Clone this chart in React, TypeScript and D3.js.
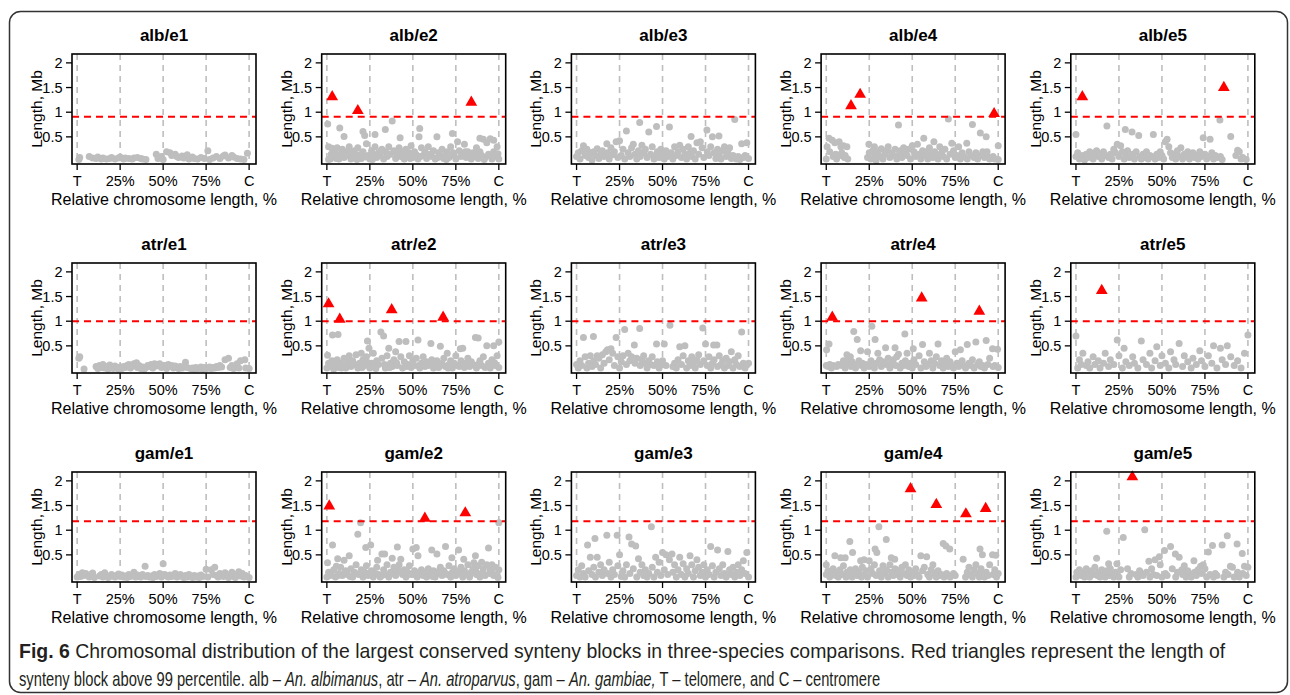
import { useLayoutEffect, useRef } from 'react';
import * as d3 from 'd3';

type Pt = [number, number];

// [relative position %, length Mb]
const albE1: Pt[] = [[1,0.04],[1.5,0.08],[7,0.1],[9,0.07],[11,0.06],[12,0.09],[14,0.05],[15,0.07],[17,0.05],[19,0.06],[20,0.08],[22,0.05],[24,0.07],[25,0.09],[27,0.05],[28,0.07],[30,0.06],[32,0.05],[33,0.07],[35,0.08],[37,0.06],[38,0.05],[40,0.04],[46,0.15],[47,0.06],[49,0.1],[50,0.04],[52,0.2],[54,0.18],[55,0.12],[57,0.15],[58,0.1],[59,0.08],[61,0.11],[62,0.07],[64,0.14],[65,0.05],[67,0.09],[68,0.06],[70,0.05],[72,0.08],[74,0.06],[76,0.22],[77,0.04],[79,0.07],[81,0.1],[83,0.06],[85,0.11],[86,0.13],[88,0.07],[90,0.12],[91,0.09],[93,0.06],[95,0.05],[97,0.04],[99,0.17]];
const albE1Peaks: Pt[] = [];

const albE2: Pt[] = [[0.5,0.76],[1,0.3],[2,0.05],[7.5,0.68],[10,0.51],[21,0.61],[22,0.53],[23,0.36],[28,0.55],[34,0.65],[38,0.82],[42.6,0.48],[53.6,0.5],[54,0.67],[64,0.5],[73,0.57],[76,0.4],[80,0.35],[87,0.28],[89,0.47],[91,0.45],[93,0.38],[95,0.46],[97,0.43],[99,0.3],
  [1,0.04],[3,0.27],[4,0.1],[5,0.18],[6,0.28],[7,0.05],[8,0.15],[9,0.25],[10,0.08],[11,0.2],[12,0.12],[13,0.3],[14,0.05],[15,0.18],[16,0.22],[17,0.1],[18,0.28],[19,0.14],[20,0.06],[21,0.2],[24,0.12],[25,0.05],[26,0.22],[27,0.15],[28,0.3],[29,0.08],[30,0.18],[31,0.12],[32,0.25],[33,0.05],[34,0.2],[35,0.1],[36,0.3],[37,0.15],[39,0.22],[40,0.06],[41,0.14],[42,0.28],[43,0.1],[44,0.2],[45,0.05],[46,0.25],[47,0.12],[48,0.18],[49,0.32],[50,0.08],[51,0.2],[52,0.14],[53,0.05],[55,0.28],[56,0.12],[57,0.2],[58,0.06],[59,0.3],[60,0.15],[61,0.1],[62,0.22],[63,0.05],[65,0.18],[66,0.1],[67,0.25],[68,0.06],[69,0.15],[70,0.2],[71,0.08],[72,0.3],[74,0.12],[75,0.05],[77,0.22],[78,0.1],[79,0.16],[81,0.08],[82,0.2],[83,0.12],[84,0.05],[85,0.18],[86,0.1],[88,0.06],[89,0.2],[90,0.12],[92,0.08],[94,0.15],[96,0.05],[97,0.2],[98,0.1],[100,0.05],
  [2.5,0.15],[5.5,0.06],[9.5,0.12],[13.5,0.18],[17.5,0.04],[22.5,0.09],[26.5,0.04],[31.5,0.22],[35.5,0.16],[40.5,0.2],[44.5,0.08],[48.5,0.06],[54.5,0.1],[58.5,0.14],[64.5,0.08],[69.5,0.04],[73.5,0.18],[80.5,0.2],[86.5,0.16],[91.5,0.04],[95.5,0.1],[99.5,0.16]];
const albE2Peaks: Pt[] = [[3.1,1.31],[18,1.03],[84,1.2]];

const albE3: Pt[] = [[29,0.62],[36.7,0.79],[42,0.6],[46.5,0.71],[54,0.7],[66.6,0.51],[75.8,0.64],[79,0.5],[82.8,0.52],[92,0.85],[96,0.36],[99,0.38],[17.6,0.36],[23,0.4],[25,0.42],[4,0.32],[33,0.35],[38,0.33],[60,0.33],[70,0.38],[72,0.4],[86,0.3],[89,0.28],
  [0,0.1],[1,0.18],[2,0.05],[3,0.22],[5,0.12],[6,0.25],[7,0.08],[8,0.18],[9,0.03],[10,0.2],[11,0.12],[12,0.26],[13,0.06],[14,0.15],[15,0.22],[16,0.1],[18,0.18],[19,0.05],[20,0.28],[21,0.14],[22,0.2],[24,0.08],[26,0.12],[27,0.25],[28,0.05],[30,0.18],[31,0.1],[32,0.28],[34,0.15],[35,0.05],[36,0.22],[37,0.1],[39,0.18],[40,0.25],[41,0.08],[43,0.15],[44,0.3],[45,0.05],[46,0.12],[47,0.2],[48,0.08],[49,0.25],[50,0.15],[51,0.05],[52,0.22],[53,0.1],[55,0.18],[56,0.05],[57,0.3],[58,0.12],[59,0.2],[61,0.08],[62,0.25],[63,0.15],[64,0.05],[65,0.3],[66,0.18],[67,0.1],[68,0.22],[69,0.05],[71,0.15],[73,0.28],[74,0.08],[76,0.2],[77,0.12],[78,0.3],[80,0.18],[81,0.06],[82,0.25],[83,0.12],[84,0.05],[85,0.22],[87,0.1],[88,0.18],[90,0.06],[91,0.12],[93,0.05],[94,0.1],[95,0.04],[97,0.08],[98,0.12],[100,0.06]];
const albE3Peaks: Pt[] = [];

const albE4: Pt[] = [[0,0.05],[0.5,0.3],[1.6,0.47],[2,0.2],[3.5,0.43],[4,0.1],[5,0.38],[5.5,0.15],[6,0.05],[7.5,0.4],[8,0.12],[8.5,0.3],[9,0.18],[10,0.32],[10.5,0.08],[11,0.12],[12,0.3],[12.5,0.05],
  [24.8,0.35],[36,0.3],[42,0.74],[56.7,0.47],[62.6,0.4],[71,0.86],[73,0.37],[81.7,0.37],[85,0.75],[89.6,0.58],[93,0.5],[100,0.32],[100,0.04],[28,0.3],[45,0.28],[50,0.32],[53,0.35],[66,0.3],[77,0.3],[93.5,0.2],
  [24,0.08],[25,0.18],[26,0.05],[27,0.22],[28.5,0.12],[29,0.02],[30,0.2],[31,0.1],[32,0.26],[33,0.05],[34,0.15],[35,0.22],[37,0.08],[38,0.18],[39,0.12],[40,0.25],[41,0.05],[42.5,0.15],[43,0.22],[44,0.08],[46,0.18],[47,0.12],[48,0.25],[49,0.05],[51,0.2],[52,0.1],[54,0.15],[55,0.05],[56,0.22],[57.5,0.12],[58,0.2],[59,0.05],[60,0.28],[61,0.15],[62,0.08],[63,0.2],[64,0.1],[65,0.05],[67,0.18],[68,0.1],[69,0.25],[70,0.05],[72,0.15],[74,0.22],[75,0.08],[76,0.12],[78,0.05],[79,0.18],[80,0.1],[82,0.05],[83,0.2],[84,0.12],[86,0.08],[87,0.18],[88,0.05],[90,0.12],[91,0.2],[92,0.08],[94,0.1],[95,0.05],[97,0.1],[98,0.05]];
const albE4Peaks: Pt[] = [[14.4,1.13],[19.7,1.36],[97.6,0.97]];

const albE5: Pt[] = [[0,0.55],[18,0.72],[28.7,0.65],[32.6,0.6],[36.5,0.53],[45,0.55],[83.7,0.84],[90,0.51],[24,0.35],[26,0.32],[52,0.4],[53,0.45],[74,0.48],[78,0.45],[94,0.23],[95,0.2],[22,0.25],
  [0,0.1],[1,0.18],[2,0.05],[3,0.08],[4,0.12],[5,0.03],[6,0.15],[7,0.08],[8,0.2],[9,0.12],[10,0.05],[11,0.18],[12,0.22],[13,0.1],[14,0.15],[15,0.05],[16,0.2],[17,0.12],[19,0.08],[20,0.15],[21,0.05],[23,0.18],[25,0.1],[27,0.2],[28,0.05],[29,0.12],[30,0.22],[31,0.08],[33,0.15],[34,0.05],[35,0.2],[37,0.1],[38,0.05],[39,0.15],[40,0.08],[41,0.2],[42,0.05],[43,0.12],[44,0.1],[46,0.05],[47,0.15],[48,0.08],[49,0.2],[50,0.12],[51,0.05],[54,0.3],[55,0.18],[56,0.08],[57,0.15],[58,0.05],[59,0.22],[60,0.1],[61,0.28],[62,0.05],[63,0.15],[64,0.12],[65,0.2],[66,0.05],[67,0.1],[68,0.18],[69,0.08],[70,0.12],[71,0.05],[72,0.2],[73,0.1],[75,0.15],[76,0.05],[77,0.1],[79,0.18],[80,0.05],[81,0.12],[82,0.08],[84,0.1],[85,0.04],[93,0.12],[96,0.05],[97,0.08],[99,0.04]];
const albE5Peaks: Pt[] = [[3.7,1.31],[86,1.5]];

const atrE1: Pt[] = [[1,0.25],[1.5,0.28],[4,0.03],[11,0.08],[12,0.04],[13,0.1],[14,0.06],[15,0.12],[16,0.05],[17,0.08],[18,0.03],[19,0.11],[20,0.07],[21,0.04],[22,0.09],[23,0.05],[24,0.03],[25,0.07],[26,0.04],[27,0.08],[28,0.06],[29,0.1],[30,0.12],[31,0.05],[32,0.09],[33,0.14],[34.5,0.16],[35,0.06],[36,0.1],[37,0.04],[38,0.07],[39,0.03],[40,0.06],[41,0.1],[42,0.08],[43,0.12],[44,0.05],[45,0.14],[46,0.09],[47,0.12],[48,0.14],[49,0.06],[51,0.1],[52,0.04],[53,0.12],[54,0.08],[55,0.1],[56,0.05],[57,0.09],[58,0.07],[59,0.04],[60,0.08],[61,0.05],[63,0.17],[64,0.06],[66,0.04],[67,0.05],[68,0.03],[69,0.06],[70,0.04],[71,0.05],[72,0.07],[73,0.03],[74,0.06],[75,0.04],[76,0.05],[77,0.07],[78,0.04],[79,0.06],[80,0.05],[81,0.08],[82,0.06],[83,0.1],[84,0.07],[86,0.22],[88,0.25],[89,0.06],[90,0.1],[91,0.04],[92,0.08],[93,0.14],[94,0.05],[95,0.2],[97.5,0.22],[98,0.05],[100,0.04]];
const atrE1Peaks: Pt[] = [];

const atrE2: Pt[] = [[0.4,0.31],[3.3,0.72],[6.5,0.73],[23.6,0.6],[31.4,0.78],[33,0.7],[42,0.59],[46,0.59],[53,0.62],[60.5,0.55],[66,0.49],[77.6,0.44],[79,0.45],[86.4,0.67],[88,0.66],[93,0.5],[97,0.5],[100,0.58],[24.5,0.45],[20,0.35],[36,0.45],[40,0.38],[70,0.35],
  [0,0.05],[1,0.15],[2,0.08],[3,0.2],[4,0.03],[5,0.12],[6,0.22],[7,0.06],[8,0.15],[9,0.1],[10,0.25],[11,0.05],[12,0.18],[13,0.3],[14,0.08],[15,0.2],[16,0.12],[17,0.32],[18,0.05],[19,0.15],[21,0.22],[22,0.1],[23,0.28],[25,0.05],[26,0.15],[27,0.35],[28,0.08],[29,0.2],[30,0.12],[32,0.25],[34,0.05],[35,0.3],[37,0.15],[38,0.08],[39,0.22],[41,0.1],[43,0.28],[44,0.05],[45,0.18],[47,0.12],[48,0.3],[49,0.06],[50,0.2],[51,0.1],[52,0.25],[54,0.05],[55,0.15],[56,0.28],[57,0.08],[58,0.18],[59,0.1],[61,0.22],[62,0.05],[63,0.12],[64,0.2],[65,0.06],[67,0.15],[68,0.25],[69,0.08],[71,0.12],[72,0.2],[73,0.05],[74,0.15],[75,0.3],[76,0.1],[78,0.2],[80,0.06],[81,0.15],[82,0.25],[83,0.08],[84,0.18],[85,0.12],[87,0.05],[89,0.2],[90,0.1],[91,0.28],[92,0.06],[94,0.15],[95,0.05],[96,0.22],[98,0.1],[99,0.3],[100,0.06],
  [2.5,0.1],[8.5,0.05],[14.5,0.14],[20.5,0.06],[24,0.16],[28.5,0.04],[33.5,0.12],[36.5,0.06],[40.5,0.16],[46.5,0.08],[53.5,0.1],[60,0.14],[66,0.1],[70.5,0.05],[77,0.08],[79.5,0.14],[86,0.1],[88.5,0.14],[93.5,0.08],[97.5,0.16]];
const atrE2Peaks: Pt[] = [[1,1.35],[7.5,1.04],[37.7,1.23],[67.6,1.08]];

const atrE3: Pt[] = [[4,0.67],[9.8,0.69],[23,0.67],[28,0.83],[36.7,0.85],[54.3,0.92],[73.4,0.86],[96,0.78],[33.6,0.52],[46.5,0.54],[51,0.54],[75,0.54],[79.7,0.52],[81.6,0.52],[60,0.48],[63,0.5],[18,0.42],[20,0.44],[90,0.38],[12,0.3],
  [0,0.12],[1,0.05],[2,0.2],[3,0.1],[5,0.28],[6,0.05],[7,0.15],[8,0.3],[9,0.08],[10,0.2],[11,0.12],[13,0.25],[14,0.05],[15,0.32],[16,0.15],[17,0.38],[19,0.22],[21,0.35],[22,0.1],[24,0.28],[25,0.05],[26,0.18],[27,0.3],[29,0.12],[30,0.35],[31,0.2],[32,0.28],[34,0.15],[35,0.25],[37,0.1],[38,0.22],[39,0.3],[40,0.15],[41,0.05],[42,0.2],[43,0.12],[44,0.28],[45,0.1],[47,0.18],[48,0.05],[49,0.12],[50,0.2],[52,0.1],[56,0.08],[57,0.15],[58,0.05],[59,0.22],[61,0.12],[62,0.3],[64,0.05],[65,0.2],[66,0.1],[67,0.28],[68,0.15],[69,0.05],[70,0.22],[71,0.32],[72,0.12],[74,0.2],[76,0.1],[77,0.28],[78,0.05],[79,0.15],[80,0.22],[82,0.08],[83,0.3],[84,0.12],[85,0.2],[86,0.05],[87,0.25],[88,0.1],[89,0.18],[91,0.05],[92,0.22],[93,0.12],[94,0.3],[95,0.08],[97,0.15],[98,0.05],[99,0.12],[100,0.15]];
const atrE3Peaks: Pt[] = [];

const atrE4: Pt[] = [[0.2,0.42],[1.6,0.54],[16,0.79],[18,0.63],[26.5,0.9],[28.4,0.63],[45.7,0.74],[34.5,0.46],[40,0.46],[50.6,0.44],[56,0.53],[65,0.54],[82,0.53],[87,0.58],[93,0.61],[96.7,0.44],[99.6,0.43],[12,0.32],[14,0.28],[20,0.4],[24,0.38],[30,0.35],[42,0.33],[47,0.35],[60,0.35],[75,0.38],[78,0.42],
  [0,0.1],[1,0.08],[2,0.12],[3,0.05],[4,0.1],[6,0.08],[7,0.12],[9,0.1],[10,0.2],[11,0.05],[12.5,0.15],[13,0.22],[14.5,0.08],[15,0.18],[16.5,0.12],[17,0.05],[19,0.2],[20.5,0.1],[21,0.15],[22,0.05],[23,0.12],[25,0.08],[26,0.2],[27,0.12],[28,0.05],[29,0.15],[31,0.22],[32,0.08],[33,0.18],[35,0.12],[36,0.25],[37,0.05],[38,0.15],[39,0.22],[40.5,0.1],[41,0.28],[43,0.05],[44,0.15],[45,0.1],[46,0.2],[48,0.08],[49,0.15],[50,0.05],[51,0.22],[52,0.12],[54,0.3],[55,0.05],[57,0.18],[58,0.08],[59,0.12],[61,0.2],[62,0.05],[63,0.15],[64,0.28],[66,0.1],[67,0.2],[68,0.05],[69,0.15],[70,0.25],[71,0.08],[72,0.18],[73,0.1],[74,0.05],[76,0.15],[77,0.08],[79,0.2],[80,0.1],[81,0.05],[83,0.15],[84,0.1],[85,0.22],[86,0.05],[88,0.12],[89,0.18],[90,0.08],[91,0.1],[92,0.05],[94,0.12],[95,0.25],[97,0.08],[98,0.1],[100,0.06]];
const atrE4Peaks: Pt[] = [[3.5,1.08],[55.5,1.47],[89,1.2]];

const atrE5: Pt[] = [[0,0.7],[1,0.05],[2,0.22],[3,0.12],[4,0.35],[6,0.1],[7,0.18],[8,0.05],[10,0.28],[11,0.12],[13,0.2],[14,0.05],[16,0.15],[17,0.35],[19,0.08],[20,0.22],[22,0.12],[24,0.62],[25,0.3],[27,0.05],[28,0.45],[29,0.18],[31,0.1],[33,0.28],[34,0.15],[36,0.05],[38,0.6],[39,0.22],[41,0.12],[43,0.35],[44,0.05],[46,0.2],[47,0.48],[49,0.1],[50,0.3],[52,0.15],[54,0.05],[55,0.38],[57,0.22],[58,0.12],[60,0.55],[62,0.08],[63,0.3],[65,0.18],[67,0.05],[68,0.25],[70,0.12],[72,0.4],[73,0.2],[75,0.08],[77,0.3],[79,0.15],[80,0.5],[82,0.05],[84,0.45],[85,0.22],[87,0.12],[88,0.5],[90,0.28],[92,0.1],[94,0.2],[96,0.05],[98,0.35],[100,0.72]];
const atrE5Peaks: Pt[] = [[15,1.62]];

const gamE1: Pt[] = [[0,0.05],[1,0.1],[2,0.06],[3,0.14],[4,0.08],[5,0.12],[7,0.05],[8,0.1],[9,0.13],[10,0.04],[13,0.07],[14,0.1],[15,0.05],[16,0.14],[17,0.08],[18,0.04],[19,0.06],[20,0.1],[21,0.07],[22,0.05],[23,0.08],[24,0.11],[25,0.06],[26,0.09],[27,0.05],[28,0.07],[29,0.04],[30,0.1],[31,0.06],[32,0.08],[33,0.15],[34,0.05],[35,0.09],[36,0.07],[37,0.05],[38,0.1],[39.5,0.27],[40,0.06],[41,0.08],[42,0.05],[43,0.07],[44,0.04],[45,0.1],[46,0.06],[47,0.08],[48,0.12],[49,0.05],[50,0.32],[51,0.1],[52,0.07],[53,0.05],[54,0.09],[55,0.06],[56,0.08],[57,0.12],[58,0.05],[59,0.07],[60,0.1],[61,0.06],[62,0.04],[63,0.08],[64,0.05],[65,0.1],[66,0.06],[67,0.04],[68,0.08],[69,0.05],[70,0.07],[71,0.04],[72,0.09],[73,0.06],[75,0.21],[76,0.05],[78,0.2],[79,0.1],[80,0.25],[81,0.08],[82,0.05],[83,0.12],[85,0.06],[86,0.14],[87,0.08],[88,0.04],[89,0.1],[90,0.15],[91,0.06],[92,0.04],[93,0.1],[94,0.16],[95,0.07],[96,0.12],[97,0.05],[98,0.08],[100,0.04]];
const gamE1Peaks: Pt[] = [];

const gamE2: Pt[] = [[0.4,0.34],[3.3,0.7],[5.5,0.27],[6.3,0.42],[10,0.39],[13,0.48],[18,0.92],[19.6,1.15],[22.6,0.65],[25.5,0.7],[29.5,0.39],[32,0.52],[33.6,0.52],[38,0.43],[41,0.66],[43,0.41],[50,0.62],[52,0.65],[53,0.48],[61,0.6],[64,0.52],[69,0.67],[72.7,0.44],[76.6,0.6],[79.6,0.41],[85.5,0.34],[86.4,0.48],[94,0.64],[100,1.15],[90,0.35],[96,0.3],
  [0,0.05],[1,0.15],[2,0.08],[4,0.2],[5,0.05],[7,0.12],[8,0.25],[9,0.08],[11,0.18],[12,0.1],[14,0.22],[15,0.05],[16,0.15],[17,0.3],[18.5,0.1],[20,0.2],[21,0.05],[22,0.15],[23,0.28],[24,0.08],[26,0.18],[27,0.05],[28,0.12],[29,0.25],[30,0.1],[31,0.05],[33,0.2],[34,0.1],[35,0.3],[36,0.05],[37,0.15],[39,0.25],[40,0.08],[41.5,0.18],[42,0.3],[44,0.1],[45,0.2],[46,0.05],[47,0.15],[48,0.28],[49,0.1],[51,0.18],[52.5,0.05],[54,0.12],[55,0.2],[56,0.08],[57,0.15],[58,0.05],[59,0.22],[60,0.1],[62,0.18],[63,0.05],[65,0.12],[66,0.25],[67,0.08],[68,0.18],[70,0.1],[71,0.28],[72,0.05],[73,0.15],[74,0.22],[75,0.08],[77,0.12],[78,0.25],[79,0.05],[80,0.18],[81,0.1],[82,0.3],[83,0.05],[84,0.15],[85,0.22],[87,0.1],[88,0.28],[89,0.05],[90.5,0.15],[91,0.22],[92,0.08],[93,0.3],[94.5,0.12],[95,0.2],[97,0.08],[98,0.25],[99,0.1],[100,0.2],
  [2.5,0.12],[6.5,0.08],[10.5,0.14],[13.5,0.06],[19,0.12],[25,0.14],[32,0.08],[38.5,0.12],[43.5,0.16],[50.5,0.1],[56.5,0.14],[61.5,0.06],[64.5,0.16],[69,0.12],[76,0.16],[83.5,0.12],[86.5,0.18],[89.5,0.1],[96,0.14],[99.5,0.04]];
const gamE2Peaks: Pt[] = [[1.4,1.49],[57,1.24],[80.5,1.35]];

const gamE3: Pt[] = [[6.4,0.7],[10.7,0.83],[17.6,0.9],[23.6,0.9],[30.5,0.86],[32,0.72],[34.4,0.68],[43.5,1.07],[50,0.55],[52,0.5],[55.5,0.52],[60,0.45],[66,0.48],[78,0.67],[82,0.6],[88,0.57],[99,0.55],[97,0.38],[8,0.45],[12,0.45],[25,0.5],[36,0.42],[46,0.45],[70,0.4],
  [0,0.08],[1,0.2],[2,0.05],[3,0.28],[4,0.12],[5,0.05],[7,0.18],[9,0.1],[10,0.25],[11,0.05],[13,0.15],[14,0.3],[15,0.08],[16,0.2],[18,0.12],[19,0.35],[20,0.05],[21,0.2],[22,0.1],[24,0.28],[26,0.06],[27,0.18],[28,0.05],[29,0.3],[31,0.12],[33,0.22],[35,0.05],[37,0.15],[38,0.3],[39,0.08],[40,0.2],[41,0.05],[42,0.12],[44,0.25],[45,0.05],[47,0.15],[48,0.35],[49,0.08],[51,0.2],[53,0.1],[54,0.4],[56,0.15],[57,0.3],[58,0.05],[59,0.2],[61,0.1],[62,0.32],[63,0.05],[64,0.22],[65,0.12],[67,0.3],[68,0.05],[69,0.18],[71,0.25],[72,0.08],[73,0.15],[74,0.3],[75,0.05],[76,0.2],[77,0.1],[79,0.28],[80,0.05],[81,0.15],[83,0.22],[84,0.08],[85,0.3],[86,0.12],[87,0.05],[89,0.2],[90,0.1],[91,0.25],[92,0.05],[93,0.15],[94,0.3],[95,0.08],[96,0.2],[98,0.12],[100,0.05]];
const gamE3Peaks: Pt[] = [];

const gamE4: Pt[] = [[30.6,1.07],[13.7,0.77],[34.9,0.81],[28.4,0.62],[29.4,0.55],[15.3,0.55],[68,0.73],[69.6,0.68],[71.8,0.62],[79.6,0.41],[89.4,0.62],[90.8,0.5],[96.7,0.5],[98.6,0.49],[5,0.48],[8.4,0.44],[11,0.44],[37.8,0.44],[39.8,0.41],[58.4,0.46],[55,0.48],[0,0.3],[20,0.38],[22,0.4],[25,0.38],[46,0.3],[62,0.3],
  [0,0.1],[1,0.18],[2,0.05],[3,0.12],[4,0.22],[5.5,0.08],[6,0.15],[7,0.05],[8,0.2],[9,0.1],[10,0.28],[11.5,0.05],[12,0.15],[13,0.1],[14,0.2],[15,0.05],[16,0.12],[17,0.22],[18,0.08],[19,0.15],[20.5,0.05],[21,0.25],[22.5,0.1],[23,0.18],[24,0.05],[26,0.22],[27,0.12],[28,0.3],[29,0.08],[31,0.18],[32,0.05],[33,0.28],[34,0.12],[35,0.2],[36,0.05],[37,0.3],[38,0.15],[39,0.08],[40,0.22],[41,0.1],[42,0.18],[43,0.05],[44,0.25],[45,0.12],[47,0.08],[48,0.2],[49,0.05],[50,0.15],[51,0.08],[52,0.22],[53,0.1],[54,0.05],[56,0.18],[57,0.25],[59,0.1],[60,0.05],[61,0.2],[63,0.12],[64,0.05],[65,0.18],[66,0.08],[67,0.1],[68.5,0.05],[70,0.12],[71,0.08],[72,0.05],[74,0.12],[75,0.08],[81,0.05],[82,0.15],[83,0.25],[84,0.1],[85,0.05],[86,0.2],[87,0.3],[88,0.12],[89,0.05],[90,0.22],[91,0.1],[92,0.05],[93,0.15],[94,0.08],[95,0.3],[97,0.1],[98,0.2],[99,0.05],[100,0.12]];
const gamE4Peaks: Pt[] = [[49,1.84],[64,1.52],[81.2,1.33],[92.7,1.44]];

const gamE5: Pt[] = [[17.9,0.98],[27.5,0.85],[40,1.01],[12,0.43],[19,0.32],[23.8,0.32],[42.4,0.37],[48.5,0.46],[49,0.3],[51.5,0.59],[55,0.67],[57.8,0.52],[60,0.45],[61.6,0.2],[68.6,0.38],[72.5,0.27],[77,0.56],[79.4,0.69],[85,0.7],[88,0.89],[89.8,0.27],[93.7,0.72],[96.7,0.53],[98,0.27],[100,0.25],[46,0.4],[74,0.3],[91,0.25],
  [0,0.05],[0.5,0.15],[1,0.1],[2,0.2],[3,0.08],[4,0.15],[5,0.05],[6,0.22],[7,0.12],[8,0.05],[9,0.18],[10,0.1],[11,0.25],[12.5,0.08],[13,0.15],[14,0.05],[15,0.2],[16,0.12],[17,0.05],[18,0.18],[19.5,0.08],[20,0.22],[21,0.12],[22,0.05],[23,0.15],[24,0.1],[25,0.05],[26,0.2],[30,0.22],[31,0.05],[32,0.12],[35,0.1],[36,0.05],[37,0.18],[38,0.12],[39,0.08],[41,0.15],[43,0.05],[44,0.22],[45,0.1],[47,0.08],[50,0.05],[52,0.12],[53,0.08],[56,0.22],[58,0.05],[59,0.15],[62,0.1],[63,0.28],[64,0.05],[65,0.18],[66,0.12],[67,0.05],[69,0.15],[70,0.08],[71,0.2],[73,0.12],[75,0.22],[76,0.05],[78,0.1],[80,0.05],[81,0.12],[82,0.08],[86,0.05],[87,0.15],[88.5,0.1],[92,0.05],[94,0.15],[95,0.05],[97,0.12],[99,0.08]];
const gamE5Peaks: Pt[] = [[32.8,2.08]];

const rowNames = ['alb', 'atr', 'gam'];
const cutoffs = [0.91, 1.0, 1.18]; // 99th percentile per species row
const colNames = ['e1', 'e2', 'e3', 'e4', 'e5'];
const grid: Pt[][][] = [
  [albE1, albE2, albE3, albE4, albE5],
  [atrE1, atrE2, atrE3, atrE4, atrE5],
  [gamE1, gamE2, gamE3, gamE4, gamE5],
];
const peakGrid: Pt[][][] = [
  [albE1Peaks, albE2Peaks, albE3Peaks, albE4Peaks, albE5Peaks],
  [atrE1Peaks, atrE2Peaks, atrE3Peaks, atrE4Peaks, atrE5Peaks],
  [gamE1Peaks, gamE2Peaks, gamE3Peaks, gamE4Peaks, gamE5Peaks],
];
const xTicks = [0, 25, 50, 75, 100];
const xTickLabels = ['T', '25%', '50%', '75%', 'C'];
const yTicks = [0.5, 1, 1.5, 2];
const yTickLabels = ['0.5', '1', '1.5', '2'];

const W = 1290;
const H = 695;
const PW = 184;
const PH = 110;
const FONT = "'Liberation Sans', Arial, Helvetica, sans-serif";

function Panel({ title, dots, peaks, cutoff, left, top }: {
  title: string; dots: Pt[]; peaks: Pt[]; cutoff: number; left: number; top: number;
}) {
  const x = d3.scaleLinear().domain([-3, 104]).range([left, left + PW]);
  const y = d3.scaleLinear().domain([-0.05, 2.18]).range([top + PH, top]);
  const tri = d3.symbol().type(d3.symbolTriangle).size(60)() || '';
  const bottom = top + PH;
  return (
    <g fontFamily={FONT}>
      <text x={left + PW / 2} y={top - 13} textAnchor="middle" fontSize={17} fontWeight="bold">{title}</text>
      {xTicks.map((t) => (
        <line key={'g' + t} x1={x(t)} x2={x(t)} y1={top} y2={bottom} stroke="#bebebe" strokeWidth={1.6} strokeDasharray="6,5" />
      ))}
      {dots.map((d, i) => (
        <circle key={i} cx={x(d[0])} cy={y(d[1])} r={3.5} fill="#bebebe" />
      ))}
      <line x1={left} x2={left + PW} y1={y(cutoff)} y2={y(cutoff)} stroke="#ff0000" strokeWidth={2} strokeDasharray="7,5" />
      {peaks.map((d, i) => (
        <path key={'p' + i} d={tri} transform={`translate(${x(d[0])},${y(d[1])})`} fill="#ff0000" />
      ))}
      <rect x={left} y={top} width={PW} height={PH} fill="none" stroke="#000" strokeWidth={1.6} />
      {xTicks.map((t, i) => (
        <g key={'x' + t}>
          <line x1={x(t)} x2={x(t)} y1={bottom} y2={bottom + 6} stroke="#000" strokeWidth={1.3} />
          <text x={x(t)} y={bottom + 21.5} textAnchor="middle" fontSize={14.5}>{xTickLabels[i]}</text>
        </g>
      ))}
      {yTicks.map((t, i) => (
        <g key={'y' + t}>
          <line x1={left - 6} x2={left} y1={y(t)} y2={y(t)} stroke="#000" strokeWidth={1.3} />
          <text x={left - 9.5} y={y(t)} dy="0.35em" textAnchor="end" fontSize={14.5}>{yTickLabels[i]}</text>
        </g>
      ))}
      <text x={left + PW / 2} y={bottom + 41} textAnchor="middle" fontSize={16}>Relative chromosome length, %</text>
      <text transform={`translate(${left - 30},${top + PH / 2}) rotate(-90)`} textAnchor="middle" fontSize={15.5}>Length, Mb</text>
    </g>
  );
}

export default function App() {
  const line1 = useRef<SVGTextElement>(null);
  const line2 = useRef<SVGTextElement>(null);

  useLayoutEffect(() => {
    document.body.style.margin = '0';
    const fit = (el: SVGTextElement | null, base: number, target: number) => {
      if (!el) return;
      const w = el.getComputedTextLength();
      if (w > 0) el.setAttribute('transform', `translate(19,${base}) scale(${target / w},1)`);
    };
    fit(line1.current, 658, 1207);
    fit(line2.current, 686, 862);
  }, []);

  const panels = [];
  for (let r = 0; r < 3; r++) {
    for (let c = 0; c < 5; c++) {
      panels.push(
        <Panel key={r + '-' + c} title={`${rowNames[r]}/${colNames[c]}`} dots={grid[r][c]} peaks={peakGrid[r][c]}
          cutoff={cutoffs[r]} left={72 + c * 249.7} top={54 + r * 209} />
      );
    }
  }

  return (
    <svg width={W} height={H} style={{ display: 'block', background: '#fff' }}>
      <rect x={9.5} y={11.5} width={1278} height={681} rx={11} fill="none" stroke="#333" strokeWidth={1.5} />
      {panels}
      <g fontFamily="'Liberation Sans Narrow', 'Liberation Sans', Arial, sans-serif" fontSize={20} fill="#231f20">
        <text ref={line1} transform="translate(19,658)">
          <tspan fontWeight="bold">Fig. 6</tspan> Chromosomal distribution of the largest conserved synteny blocks in three-species comparisons. Red triangles represent the length of
        </text>
        <text ref={line2} transform="translate(19,686)">
          synteny block above 99 percentile. alb – <tspan fontStyle="italic">An. albimanus</tspan>, atr – <tspan fontStyle="italic">An. atroparvus</tspan>, gam – <tspan fontStyle="italic">An. gambiae,</tspan> T – telomere, and C – centromere
        </text>
      </g>
    </svg>
  );
}
